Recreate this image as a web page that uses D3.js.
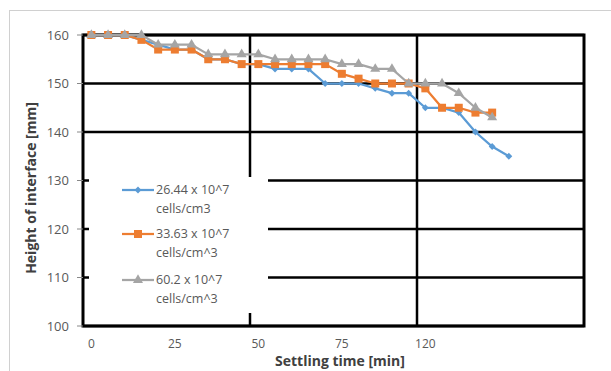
<!DOCTYPE html>
<html>
<head>
<meta charset="utf-8">
<script src="https://cdn.jsdelivr.net/npm/d3@7"></script>
<style>
  body { margin: 0; background: #fff; }
  svg { display: block; font-family: 'Open Sans', 'Noto Sans', sans-serif; }
</style>
</head>
<body>
<svg id="chart" width="611" height="371"></svg>
<script>
// settling time in minutes (one point every 5 min)
const times = [0, 5, 10, 15, 20, 25, 30, 35, 40, 45, 50, 55, 60, 65, 70, 75, 80, 85, 90, 95, 100, 105, 110, 115, 120, 125];

const seriesNames = ['26.44 x 10^7|cells/cm3', '33.63 x 10^7|cells/cm^3', '60.2 x 10^7|cells/cm^3'];
const blueHeights = [160, 160, 160, 159, 158, 157, 157, 155, 155, 154, 154, 153, 153, 153, 150, 150, 150, 149, 148, 148, 145, 145, 144, 140, 137, 135];
const orangeHeights = [160, 160, 160, 159, 157, 157, 157, 155, 155, 154, 154, 154, 154, 154, 154, 152, 151, 150, 150, 150, 149, 145, 145, 144, 144];
const grayHeights = [160, 160, 160, 160, 158, 158, 158, 156, 156, 156, 156, 155, 155, 155, 155, 154, 154, 153, 153, 150, 150, 150, 148, 145, 143];

const yTicks = [100, 110, 120, 130, 140, 150, 160];
const xTickValues = [0, 25, 50, 75, 100];
const xTickLabels = ['0', '25', '50', '75', '120'];
const xGridValues = [47.5, 97.5];

const colors = ['#5B9BD5', '#ED7D31', '#A5A5A5'];
const symbols = [d3.symbolDiamond2, d3.symbolSquare, d3.symbolTriangle];
const symbolSizes = [30, 64, 44];

const svg = d3.select('#chart');

const x = d3.scaleLinear().domain([-2.5, 147.5]).range([83, 584]);
const y = d3.scaleLinear().domain([100, 160]).range([326, 35]);

// outer chart frame
svg.append('rect')
    .attr('x', 9.5).attr('y', 10.5)
    .attr('width', 640).attr('height', 400)
    .attr('fill', 'none')
    .attr('stroke', '#d0d0d0');

// horizontal gridlines
svg.append('g')
    .selectAll('line')
    .data(yTicks)
    .enter().append('line')
    .attr('x1', x.range()[0]).attr('x2', x.range()[1])
    .attr('y1', d => y(d)).attr('y2', d => y(d))
    .attr('stroke', '#000')
    .attr('stroke-width', 2.5);

// vertical gridlines
svg.append('g')
    .selectAll('line')
    .data(xGridValues)
    .enter().append('line')
    .attr('x1', d => x(d)).attr('x2', d => x(d))
    .attr('y1', y(160)).attr('y2', y(100))
    .attr('stroke', '#000')
    .attr('stroke-width', 2.5);

// plot border
svg.append('rect')
    .attr('x', x.range()[0]).attr('y', y(160))
    .attr('width', x.range()[1] - x.range()[0])
    .attr('height', y(100) - y(160))
    .attr('fill', 'none')
    .attr('stroke', '#000')
    .attr('stroke-width', 3);

// y ticks + labels
const yAxis = svg.append('g');
yAxis.selectAll('line')
    .data(yTicks)
    .enter().append('line')
    .attr('x1', 77).attr('x2', 83)
    .attr('y1', d => y(d)).attr('y2', d => y(d))
    .attr('stroke', '#888');
yAxis.selectAll('text')
    .data(yTicks)
    .enter().append('text')
    .attr('x', 69)
    .attr('y', d => y(d))
    .attr('dy', '0.35em')
    .attr('text-anchor', 'end')
    .attr('fill', '#595959')
    .style('font-size', '13px')
    .text(d => d);

// x tick labels
svg.append('g')
    .selectAll('text')
    .data(xTickValues)
    .enter().append('text')
    .attr('x', d => x(d))
    .attr('y', 344)
    .attr('dy', '0.35em')
    .attr('text-anchor', 'middle')
    .attr('fill', '#595959')
    .style('font-size', '12px')
    .text((d, i) => xTickLabels[i]);

// axis titles
svg.append('text')
    .attr('x', 340).attr('y', 361)
    .attr('dy', '0.35em')
    .attr('text-anchor', 'middle')
    .attr('fill', '#404040')
    .style('font-size', '14px')
    .style('font-weight', 'bold')
    .text('Settling time [min]');

svg.append('text')
    .attr('transform', 'translate(31, 188) rotate(-90)')
    .attr('dy', '0.35em')
    .attr('text-anchor', 'middle')
    .attr('fill', '#404040')
    .style('font-size', '14px')
    .style('font-weight', 'bold')
    .text('Height of interface [mm]');

// legend (white box hides the gridlines behind it)
const legend = svg.append('g');
legend.append('rect')
    .attr('x', 89).attr('y', 177)
    .attr('width', 179).attr('height', 136)
    .attr('fill', '#fff');

const legendRows = [190, 234, 280];
seriesNames.forEach((name, i) => {
    const row = legend.append('g');
    row.append('line')
        .attr('x1', 122).attr('x2', 154)
        .attr('y1', legendRows[i]).attr('y2', legendRows[i])
        .attr('stroke', colors[i])
        .attr('stroke-width', 2.25);
    row.append('path')
        .attr('d', d3.symbol().type(symbols[i]).size(symbolSizes[i]))
        .attr('transform', `translate(138, ${legendRows[i]})`)
        .attr('fill', colors[i]);
    const parts = name.split('|');
    parts.forEach((p, j) => {
        row.append('text')
            .attr('x', 156)
            .attr('y', legendRows[i] + j * 19)
            .attr('dy', '0.35em')
            .attr('fill', '#595959')
            .style('font-size', '12.5px')
            .text(p);
    });
});

// series
const allSeries = [blueHeights, orangeHeights, grayHeights];
const line = d3.line()
    .x((d, i) => x(times[i]))
    .y(d => y(d));

allSeries.forEach((vals, i) => {
    const g = svg.append('g');
    g.append('path')
        .datum(vals)
        .attr('d', line)
        .attr('fill', 'none')
        .attr('stroke', colors[i])
        .attr('stroke-width', 2.25)
        .attr('stroke-linejoin', 'round');
    g.selectAll('path.marker')
        .data(vals)
        .enter().append('path')
        .attr('class', 'marker')
        .attr('d', d3.symbol().type(symbols[i]).size(symbolSizes[i]))
        .attr('transform', (d, k) => `translate(${x(times[k])}, ${y(d)})`)
        .attr('fill', colors[i]);
});
</script>
</body>
</html>
